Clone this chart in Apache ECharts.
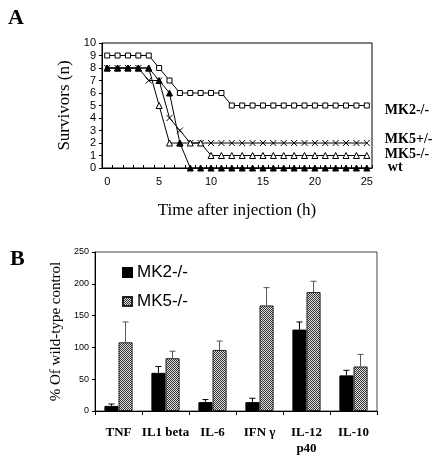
<!DOCTYPE html>
<html>
<head>
<meta charset="utf-8">
<script src="https://cdn.jsdelivr.net/npm/echarts@6/dist/echarts.min.js"></script>
<style>html,body{margin:0;padding:0;background:#fff;}#c{width:438px;height:458px;}</style>
</head>
<body>
<div id="c"></div>
<script>
// ---- Panel A data ----
const hours = ['0','1','2','3','4','5','6','7','8','9','10','11','12','13','14','15','16','17','18','19','20','21','22','23','24','25'];
const mk2 = [9,9,9,9,9,8,7,6,6,6,6,6,5,5,5,5,5,5,5,5,5,5,5,5,5,5];
const mk5het = [8,8,8,8,7,7,4,3,2,2,2,2,2,2,2,2,2,2,2,2,2,2,2,2,2,2];
const mk5ko = [8,8,8,8,8,5,2,2,2,2,1,1,1,1,1,1,1,1,1,1,1,1,1,1,1,1];
const wt = [8,8,8,8,8,7,6,2,0,0,0,0,0,0,0,0,0,0,0,0,0,0,0,0,0,0];
const survivorTicks = [0,1,2,3,4,5,6,7,8,9,10];

// ---- Panel B data ----
const cytokines = ['TNF','IL1 beta','IL-6','IFN γ','IL-12\np40','IL-10'];
const mk2B = [8, 60, 14, 14, 128, 56];
const mk2BErr = [3, 10, 4, 6, 12, 8];
const mk5B = [108, 83, 96, 166, 187, 70];
const mk5BErr = [32, 11, 14, 28, 17, 19];

const serif = '"Liberation Serif", "DejaVu Serif", serif';
const sans = '"Liberation Sans", Arial, sans-serif';

// checker pattern for the gray bars
const pc = document.createElement('canvas');
pc.width = 2; pc.height = 2;
const pctx = pc.getContext('2d');
pctx.fillStyle = '#e0e0e0'; pctx.fillRect(0,0,2,2);
pctx.fillStyle = '#333333'; pctx.fillRect(0,0,1,1); pctx.fillRect(1,1,1,1);
const hatch = {image: pc, repeat: 'repeat'};

const chart = echarts.init(document.getElementById('c'), null, {renderer: 'canvas'});

function lineSeries(name, data, symbol, size, fill, labelOffset, labelText) {
  return {
    type: 'line', name: name, data: data,
    xAxisIndex: 0, yAxisIndex: 0,
    symbol: symbol, symbolSize: size, showAllSymbol: true,
    lineStyle: {color: '#000', width: 1},
    itemStyle: {color: fill, borderColor: '#000', borderWidth: 1},
    emphasis: {disabled: true},
    animation: false,
    endLabel: {
      show: true, formatter: labelText, distance: 18, offset: labelOffset,
      fontFamily: serif, fontWeight: 'bold', fontSize: 14, color: '#000'
    }
  };
}

function errSeries(name, vals, errs, side, color) {
  return {
    type: 'custom', name: name + ' err', xAxisIndex: 1, yAxisIndex: 1,
    data: vals.map((v, i) => [i, v, errs[i]]),
    z: 1, silent: true, animation: false,
    renderItem: function (params, api) {
      const i = api.value(0), v = api.value(1), e = api.value(2);
      const bw = api.size([1, 0])[0] * 0.3;
      const b = api.coord([i, v]);
      const t = api.coord([i, v + e]);
      const x = b[0] + side * bw / 2;
      return {type: 'group', children: [
        {type: 'line', shape: {x1: x, y1: b[1], x2: x, y2: t[1]}, style: {stroke: color, lineWidth: 1}},
        {type: 'line', shape: {x1: x - 3, y1: t[1], x2: x + 3, y2: t[1]}, style: {stroke: color, lineWidth: 1}}
      ]};
    }
  };
}

const option = {
  backgroundColor: '#fff',
  animation: false,
  title: [
    {text: 'A', left: 3, top: 2, textStyle: {fontFamily: serif, fontWeight: 'bold', fontSize: 22, color: '#000'}},
    {text: 'B', left: 5, top: 243, textStyle: {fontFamily: serif, fontWeight: 'bold', fontSize: 22, color: '#000'}}
  ],
  legend: {
    data: ['MK2-/-', 'MK5-/-'],
    orient: 'vertical', left: 117, top: 259, itemGap: 12,
    itemWidth: 9, itemHeight: 9, icon: 'rect',
    textStyle: {fontFamily: sans, fontSize: 17, color: '#000'},
    selectedMode: false
  },
  grid: [
    {left: 102, right: 66, top: 43, bottom: 290, show: true, borderColor: '#000', borderWidth: 1, backgroundColor: 'transparent'},
    {left: 95, right: 61, top: 252, bottom: 47, show: true, borderColor: '#444', borderWidth: 1, backgroundColor: 'transparent'}
  ],
  xAxis: [
    {
      type: 'category', gridIndex: 0, data: hours, boundaryGap: true,
      axisLine: {lineStyle: {color: '#000'}},
      axisTick: {show: true, interval: 0, length: 3, inside: true, lineStyle: {color: '#000'}},
      axisLabel: {interval: 4, fontFamily: sans, fontSize: 11, color: '#000', margin: 8},
      name: 'Time after injection (h)', nameLocation: 'middle', nameGap: 34,
      nameTextStyle: {fontFamily: serif, fontSize: 17, color: '#000'}
    },
    {
      type: 'category', gridIndex: 1, data: cytokines,
      axisLine: {lineStyle: {color: '#000'}},
      axisTick: {show: true, length: 4, lineStyle: {color: '#000'}},
      axisLabel: {interval: 0, fontFamily: serif, fontWeight: 'bold', fontSize: 13, color: '#000', margin: 14, lineHeight: 16}
    }
  ],
  yAxis: [
    {
      type: 'value', gridIndex: 0, min: 0, max: 10, interval: 1,
      axisLine: {show: true, lineStyle: {color: '#000'}},
      axisTick: {show: true, length: 3, lineStyle: {color: '#000'}},
      splitLine: {show: false},
      axisLabel: {fontFamily: sans, fontSize: 11, color: '#000', margin: 6},
      name: 'Survivors (n)', nameLocation: 'middle', nameGap: 29,
      nameTextStyle: {fontFamily: serif, fontSize: 17, color: '#000'}
    },
    {
      type: 'value', gridIndex: 1, min: 0, max: 250, interval: 50,
      axisLine: {show: true, lineStyle: {color: '#000'}},
      axisTick: {show: true, length: 3, lineStyle: {color: '#000'}},
      splitLine: {show: false},
      axisLabel: {fontFamily: sans, fontSize: 9, color: '#000', margin: 6},
      name: '% Of wild-type control', nameLocation: 'middle', nameGap: 19,
      nameTextStyle: {fontFamily: serif, fontSize: 15, color: '#000'}
    }
  ],
  series: [
    lineSeries('surv MK2-/-', mk2, 'rect', 5, '#fff', [0, 5], 'MK2-/-'),
    lineSeries('surv MK5+/-', mk5het, 'path://M0,0L10,10M10,0L0,10', 6, 'none', [0, -4], 'MK5+/-'),
    lineSeries('surv MK5-/-', mk5ko, 'triangle', 6, '#fff', [0, -1], 'MK5-/-'),
    lineSeries('surv wt', wt, 'triangle', 6, '#000', [3, -1], 'wt'),
    {
      type: 'bar', name: 'MK2-/-', xAxisIndex: 1, yAxisIndex: 1, data: mk2B,
      barWidth: '30%', barGap: '0%',
      itemStyle: {color: '#000', borderColor: '#000', borderWidth: 1}, z: 2
    },
    {
      type: 'bar', name: 'MK5-/-', xAxisIndex: 1, yAxisIndex: 1, data: mk5B,
      barWidth: '30%', barGap: '0%',
      itemStyle: {color: hatch, borderColor: '#222', borderWidth: 1}, z: 2
    },
    errSeries('MK2-/-', mk2B, mk2BErr, -1, '#000'),
    errSeries('MK5-/-', mk5B, mk5BErr, 1, '#555')
  ]
};
chart.setOption(option);
</script>
</body>
</html>
